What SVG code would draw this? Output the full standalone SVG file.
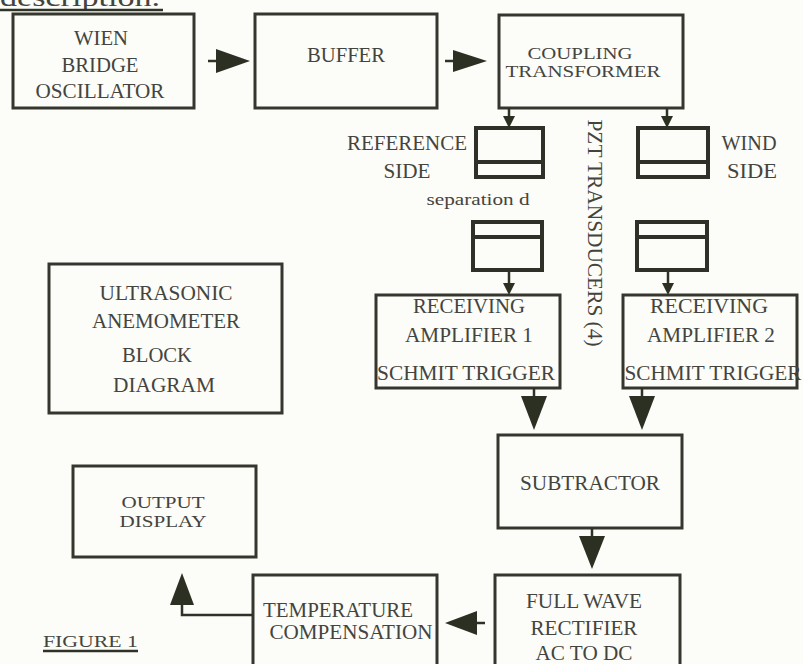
<svg xmlns="http://www.w3.org/2000/svg" width="803" height="664" viewBox="0 0 803 664">
<style>
.bg{fill:#fcfcf8}
.box{fill:none;stroke:#35372e;stroke-width:3}
.td{fill:none;stroke:#2f3128;stroke-width:4}
.t{font-family:"Liberation Serif","Times New Roman",serif;font-size:20px;fill:#44443e;text-anchor:middle}
.tight{font-size:17px}
.ln{stroke:#2f3226;stroke-width:2.5;fill:none}
.ah{fill:#2c3022;stroke:none}
</style>
<rect class="bg" x="0" y="0" width="803" height="664"/>
<g id="caption-top">
<text class="t" x="0" y="6" style="text-anchor:start;font-size:26px" textLength="160" lengthAdjust="spacingAndGlyphs">description.</text>
<line x1="0" y1="10" x2="163" y2="10" class="ln" stroke-width="2"/>
</g>
<g id="wien">
<rect class="box" x="13" y="14" width="181" height="94"/>
<text class="t" x="101" y="45" textLength="54" lengthAdjust="spacingAndGlyphs">WIEN</text>
<text class="t" x="100" y="72" textLength="77" lengthAdjust="spacingAndGlyphs">BRIDGE</text>
<text class="t" x="100" y="98" textLength="129" lengthAdjust="spacingAndGlyphs">OSCILLATOR</text>
</g>
<g id="buffer">
<rect class="box" x="255" y="14" width="182" height="94"/>
<text class="t" x="346" y="62" textLength="78" lengthAdjust="spacingAndGlyphs">BUFFER</text>
</g>
<g id="coupling">
<rect class="box" x="499" y="15" width="184" height="93"/>
<text class="t tight" x="580" y="59" textLength="105" lengthAdjust="spacingAndGlyphs">COUPLING</text>
<text class="t tight" x="583" y="77" textLength="155" lengthAdjust="spacingAndGlyphs">TRANSFORMER</text>
</g>
<g id="tx-ref-top">
<rect class="td" x="476" y="128" width="67" height="49"/>
<line class="td" x1="476" y1="162" x2="543" y2="162"/>
<text class="t" x="407" y="150" textLength="120" lengthAdjust="spacingAndGlyphs">REFERENCE</text>
<text class="t" x="407" y="178" textLength="47" lengthAdjust="spacingAndGlyphs">SIDE</text>
</g>
<g id="tx-wind-top">
<rect class="td" x="638" y="128" width="70" height="49"/>
<line class="td" x1="638" y1="162" x2="708" y2="162"/>
<text class="t" x="749" y="150" textLength="55" lengthAdjust="spacingAndGlyphs">WIND</text>
<text class="t" x="752" y="178" textLength="50" lengthAdjust="spacingAndGlyphs">SIDE</text>
</g>
<g id="separation">
<text class="t" x="478" y="205" style="font-size:17px" textLength="103" lengthAdjust="spacingAndGlyphs">separation  d</text>
</g>
<g id="tx-ref-bottom">
<rect class="td" x="473" y="222" width="69" height="48"/>
<line class="td" x1="473" y1="237" x2="542" y2="237"/>
</g>
<g id="tx-wind-bottom">
<rect class="td" x="637" y="222" width="70" height="48"/>
<line class="td" x1="637" y1="237" x2="707" y2="237"/>
</g>
<g id="pzt">
<text class="t" transform="translate(588,233) rotate(90)" x="0" y="0" textLength="227" lengthAdjust="spacingAndGlyphs">PZT TRANSDUCERS (4)</text>
</g>
<g id="rx1">
<rect class="box" x="376" y="295" width="184" height="93"/>
<text class="t" x="469" y="313" textLength="112" lengthAdjust="spacingAndGlyphs">RECEIVING</text>
<text class="t" x="469" y="342" textLength="128" lengthAdjust="spacingAndGlyphs">AMPLIFIER 1</text>
<text class="t" x="466" y="380" textLength="178" lengthAdjust="spacingAndGlyphs">SCHMIT TRIGGER</text>
</g>
<g id="rx2">
<rect class="box" x="623" y="295" width="174" height="93"/>
<text class="t" x="709" y="313" textLength="118" lengthAdjust="spacingAndGlyphs">RECEIVING</text>
<text class="t" x="711" y="342" textLength="128" lengthAdjust="spacingAndGlyphs">AMPLIFIER 2</text>
<text class="t" x="713" y="380" textLength="177" lengthAdjust="spacingAndGlyphs">SCHMIT TRIGGER</text>
</g>
<g id="ultrasonic">
<rect class="box" x="49" y="264" width="233" height="149"/>
<text class="t" x="166" y="300" textLength="133" lengthAdjust="spacingAndGlyphs">ULTRASONIC</text>
<text class="t" x="166" y="328" textLength="148" lengthAdjust="spacingAndGlyphs">ANEMOMETER</text>
<text class="t" x="157" y="362" textLength="70" lengthAdjust="spacingAndGlyphs">BLOCK</text>
<text class="t" x="164" y="392" textLength="102" lengthAdjust="spacingAndGlyphs">DIAGRAM</text>
</g>
<g id="subtractor">
<rect class="box" x="498" y="435" width="184" height="93"/>
<text class="t" x="590" y="490" textLength="140" lengthAdjust="spacingAndGlyphs">SUBTRACTOR</text>
</g>
<g id="output">
<rect class="box" x="73" y="466" width="183" height="91"/>
<text class="t" x="163" y="508" style="font-size:16px" textLength="83" lengthAdjust="spacingAndGlyphs">OUTPUT</text>
<text class="t" x="163" y="527" style="font-size:16px" textLength="87" lengthAdjust="spacingAndGlyphs">DISPLAY</text>
</g>
<g id="temperature">
<rect class="box" x="253" y="575" width="184" height="100"/>
<text class="t" x="338" y="617" textLength="150" lengthAdjust="spacingAndGlyphs">TEMPERATURE</text>
<text class="t" x="351" y="639" textLength="163" lengthAdjust="spacingAndGlyphs">COMPENSATION</text>
</g>
<g id="rectifier">
<rect class="box" x="495" y="575" width="185" height="100"/>
<text class="t" x="584" y="608" textLength="116" lengthAdjust="spacingAndGlyphs">FULL WAVE</text>
<text class="t" x="584" y="635" textLength="107" lengthAdjust="spacingAndGlyphs">RECTIFIER</text>
<text class="t" x="584" y="660" textLength="97" lengthAdjust="spacingAndGlyphs">AC TO DC</text>
</g>
<g id="figure-label">
<text class="t" x="43" y="647" style="text-anchor:start;font-size:17px" textLength="95" lengthAdjust="spacingAndGlyphs">FIGURE 1</text>
<line x1="43" y1="651" x2="138" y2="651" class="ln" stroke-width="1.5"/>
</g>
<g id="connectors">
<line class="ln" x1="208" y1="61" x2="220" y2="61"/>
<polygon class="ah" points="216,49 250,61 216,73"/>
<line class="ln" x1="445" y1="61" x2="456" y2="61"/>
<polygon class="ah" points="453,50 487,61 453,72"/>
<line class="ln" x1="509" y1="108" x2="509" y2="118"/>
<polygon class="ah" points="503,116 515,116 509,128"/>
<line class="ln" x1="667" y1="108" x2="667" y2="118"/>
<polygon class="ah" points="661,116 673,116 667,128"/>
<line class="ln" x1="509" y1="270" x2="509" y2="284"/>
<polygon class="ah" points="503,283 515,283 509,295"/>
<line class="ln" x1="668" y1="270" x2="668" y2="284"/>
<polygon class="ah" points="662,283 674,283 668,295"/>
<line class="ln" x1="534" y1="388" x2="534" y2="400"/>
<polygon class="ah" points="521,396 547,396 534,430"/>
<line class="ln" x1="642" y1="388" x2="642" y2="400"/>
<polygon class="ah" points="629,396 655,396 642,430"/>
<line class="ln" x1="592" y1="528" x2="592" y2="540"/>
<polygon class="ah" points="579,536 605,536 592,569"/>
<line class="ln" x1="485" y1="623" x2="472" y2="623"/>
<polygon class="ah" points="477,611 477,635 445,623"/>
<polyline class="ln" points="253,615 182,615 182,600"/>
<polygon class="ah" points="182,573 194,605 170,605"/>
</g>
</svg>
